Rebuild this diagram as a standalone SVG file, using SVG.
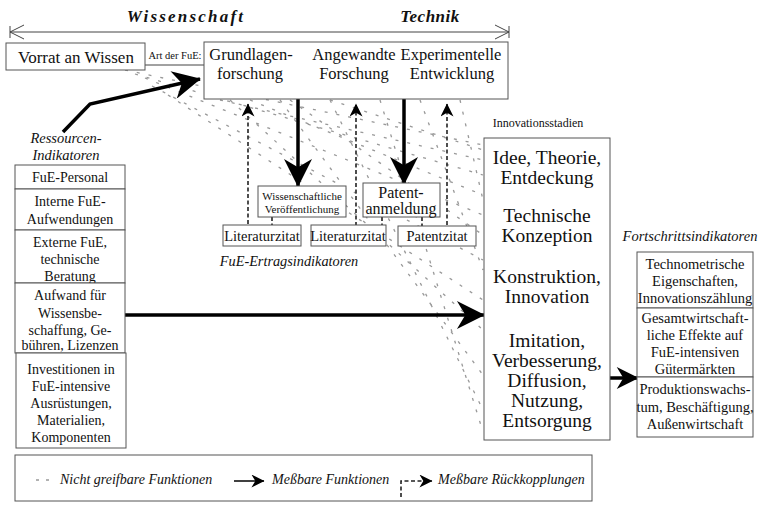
<svg xmlns="http://www.w3.org/2000/svg" width="758" height="505" viewBox="0 0 758 505">
<style>
.box{fill:#fff;stroke:#555;stroke-width:1}
.thick{stroke:#000;stroke-width:3.5;fill:none}
.fb{stroke:#222;stroke-width:1.6;fill:none;stroke-dasharray:4 2.5}
.dash{stroke:#999;stroke-width:1.3;fill:none;stroke-dasharray:3 9}
.thin{stroke:#444;stroke-width:1;fill:none}
</style>
<defs>
<marker id="big" viewBox="0 0 30 30" refX="29" refY="15" markerUnits="userSpaceOnUse" markerWidth="30" markerHeight="28" orient="auto"><path d="M0,0 L30,15 L0,30 L9,15 Z" fill="#000"/></marker>
<marker id="mid" viewBox="0 0 30 30" refX="29" refY="15" markerUnits="userSpaceOnUse" markerWidth="24" markerHeight="22" orient="auto"><path d="M0,0 L30,15 L0,30 L9,15 Z" fill="#000"/></marker>
<marker id="sm" viewBox="0 0 30 30" refX="29" refY="15" markerUnits="userSpaceOnUse" markerWidth="16" markerHeight="13" orient="auto"><path d="M0,0 L30,15 L0,30 L9,15 Z" fill="#000"/></marker>
</defs>

<g id="connectors">
  <g class="dash">
    <line x1="125" y1="70" x2="483" y2="145"/>
    <line x1="135" y1="74" x2="483" y2="175"/>
    <line x1="145" y1="78" x2="483" y2="215"/>
    <line x1="152" y1="86" x2="483" y2="260"/>
    <line x1="168" y1="95" x2="483" y2="300"/>
    <line x1="220" y1="100" x2="483" y2="160"/>
    <line x1="250" y1="100" x2="483" y2="195"/>
    <line x1="290" y1="100" x2="483" y2="235"/>
    <line x1="330" y1="100" x2="483" y2="150"/>
    <line x1="230" y1="100" x2="483" y2="330"/>
    <line x1="280" y1="100" x2="483" y2="375"/>
    <line x1="330" y1="100" x2="483" y2="410"/>
    <line x1="380" y1="100" x2="483" y2="432"/>
    <line x1="420" y1="100" x2="483" y2="270"/>
    <line x1="460" y1="100" x2="483" y2="200"/>
  </g>
  <line class="thin" x1="10" y1="32" x2="509" y2="32"/>
  <path class="thin" d="M24,25 L10,32 L24,39 M10,26 L10,38 M495,25 L509,32 L495,39 M509,26 L509,38" stroke-width="1.5"/>
  <line class="thin" x1="145" y1="65" x2="204" y2="65"/>
  <line x1="242" y1="93" x2="393" y2="93" stroke="#000" stroke-width="3"/>
  <line x1="309" y1="85" x2="462" y2="85" stroke="#000" stroke-width="3"/>
  <line class="thick" x1="298" y1="93" x2="298" y2="186" marker-end="url(#big)" stroke-width="3"/>
  <line class="thick" x1="404" y1="85" x2="404" y2="184" marker-end="url(#big)" stroke-width="3"/>
  <polyline class="thick" points="63,132 90,104 200,79" marker-end="url(#big)"/>
  <line class="thick" x1="125" y1="315" x2="484" y2="315" marker-end="url(#big)" stroke-width="3"/>
  <line class="thick" x1="610" y1="378" x2="638" y2="378" marker-end="url(#mid)" stroke-width="3"/>
  <polyline class="fb" points="272,217 272,228 248,228 248,104" marker-end="url(#sm)"/>
  <polyline class="fb" points="382,217 382,228 356,228 356,104" marker-end="url(#sm)"/>
  <polyline class="fb" points="422,217 422,228 447,228 447,104" marker-end="url(#sm)"/>
</g>

<g fill="#111" text-anchor="middle">
<g id="axis-labels">
  <text style="font-family:'Liberation Serif',serif" font-style="italic" x="186" y="22" font-size="17" font-weight="bold" letter-spacing="2.2">Wissenschaft</text>
  <text style="font-family:'Liberation Serif',serif" font-style="italic" x="430" y="22" font-size="17" font-weight="bold" letter-spacing="0.5">Technik</text>
</g>

<g id="vorrat">
  <rect class="box" x="6" y="43" width="139" height="27"/>
  <text style="font-family:'Liberation Serif',serif" x="76" y="63" font-size="17">Vorrat an Wissen</text>
</g>
<text style="font-family:'Liberation Serif',serif" x="175" y="59" font-size="10.5">Art der FuE:</text>

<g id="fue-arten">
  <rect class="box" x="204" y="42" width="304" height="57"/>
  <text style="font-family:'Liberation Serif',serif" font-size="16.5"><tspan x="251" y="60">Grundlagen-</tspan><tspan x="250" y="79">forschung</tspan></text>
  <text style="font-family:'Liberation Serif',serif" font-size="16.5"><tspan x="354" y="60">Angewandte</tspan><tspan x="354" y="79">Forschung</tspan></text>
  <text style="font-family:'Liberation Serif',serif" font-size="16.5"><tspan x="451" y="60">Experimentelle</tspan><tspan x="452" y="79">Entwicklung</tspan></text>
</g>

<g id="ressourcen">
  <text style="font-family:'Liberation Serif',serif" font-style="italic" font-size="14.5"><tspan x="66" y="143">Ressourcen-</tspan><tspan x="66" y="160">Indikatoren</tspan></text>
  <rect class="box" x="15" y="165" width="110" height="24"/>
  <text style="font-family:'Liberation Serif',serif" x="70" y="182" font-size="14">FuE-Personal</text>
  <rect class="box" x="15" y="189" width="110" height="41"/>
  <text style="font-family:'Liberation Serif',serif" font-size="14"><tspan x="70" y="206">Interne FuE-</tspan><tspan x="70" y="224">Aufwendungen</tspan></text>
  <rect class="box" x="15" y="230" width="110" height="53"/>
  <text style="font-family:'Liberation Serif',serif" font-size="14"><tspan x="70" y="247">Externe FuE,</tspan><tspan x="70" y="264">technische</tspan><tspan x="70" y="281">Beratung</tspan></text>
  <rect class="box" x="15" y="283" width="110" height="70"/>
  <text style="font-family:'Liberation Serif',serif" font-size="14"><tspan x="70" y="300">Aufwand für</tspan><tspan x="70" y="318">Wissensbe-</tspan><tspan x="70" y="335">schaffung, Ge-</tspan><tspan x="70" y="350">bühren, Lizenzen</tspan></text>
  <rect class="box" x="16" y="353" width="110" height="95"/>
  <text style="font-family:'Liberation Serif',serif" font-size="14"><tspan x="71" y="374">Investitionen in</tspan><tspan x="71" y="391">FuE-intensive</tspan><tspan x="71" y="408">Ausrüstungen,</tspan><tspan x="71" y="425">Materialien,</tspan><tspan x="71" y="442">Komponenten</tspan></text>
</g>

<g id="ertrag">
  <rect class="box" x="258" y="186" width="88" height="31"/>
  <text style="font-family:'Liberation Serif',serif" font-size="11"><tspan x="302" y="200">Wissenschaftliche</tspan><tspan x="302" y="213">Veröffentlichung</tspan></text>
  <rect class="box" x="363" y="183" width="77" height="34"/>
  <text style="font-family:'Liberation Serif',serif" font-size="16"><tspan x="401" y="198">Patent-</tspan><tspan x="401" y="214">anmeldung</tspan></text>
  <rect class="box" x="223" y="225" width="78" height="21"/>
  <text style="font-family:'Liberation Serif',serif" x="262" y="241" font-size="14.5">Literaturzitat</text>
  <rect class="box" x="311" y="225" width="75" height="21"/>
  <text style="font-family:'Liberation Serif',serif" x="348" y="241" font-size="14.5">Literaturzitat</text>
  <rect class="box" x="398" y="226" width="78" height="20"/>
  <text style="font-family:'Liberation Serif',serif" x="437" y="241" font-size="14.5">Patentzitat</text>
  <text style="font-family:'Liberation Serif',serif" font-style="italic" x="289" y="266" font-size="14.3">FuE-Ertragsindikatoren</text>
</g>

<g id="innovation">
  <text style="font-family:'Liberation Serif',serif" x="538" y="127" font-size="12">Innovationsstadien</text>
  <rect class="box" x="484" y="138" width="126" height="302"/>
  <text style="font-family:'Liberation Serif',serif" font-size="19.5"><tspan x="547" y="164">Idee, Theorie,</tspan><tspan x="547" y="184">Entdeckung</tspan></text>
  <text style="font-family:'Liberation Serif',serif" font-size="19.5"><tspan x="547" y="222">Technische</tspan><tspan x="547" y="242">Konzeption</tspan></text>
  <text style="font-family:'Liberation Serif',serif" font-size="19.5"><tspan x="547" y="283">Konstruktion,</tspan><tspan x="547" y="303">Innovation</tspan></text>
  <text style="font-family:'Liberation Serif',serif" font-size="19.5"><tspan x="547" y="347">Imitation,</tspan><tspan x="547" y="367">Verbesserung,</tspan><tspan x="547" y="387">Diffusion,</tspan><tspan x="547" y="407">Nutzung,</tspan><tspan x="547" y="427">Entsorgung</tspan></text>
</g>

<g id="fortschritt">
  <text style="font-family:'Liberation Serif',serif" font-style="italic" x="690" y="241" font-size="14.5">Fortschrittsindikatoren</text>
  <rect class="box" x="637" y="252" width="116" height="56"/>
  <text style="font-family:'Liberation Serif',serif" font-size="14.5"><tspan x="695" y="269">Technometrische</tspan><tspan x="695" y="286">Eigenschaften,</tspan><tspan x="695" y="303">Innovationszählung</tspan></text>
  <rect class="box" x="637" y="308" width="116" height="69"/>
  <text style="font-family:'Liberation Serif',serif" font-size="14.5"><tspan x="695" y="323">Gesamtwirtschaft-</tspan><tspan x="695" y="340">liche Effekte auf</tspan><tspan x="695" y="357">FuE-intensiven</tspan><tspan x="695" y="374">Gütermärkten</tspan></text>
  <rect class="box" x="637" y="377" width="116" height="60"/>
  <text style="font-family:'Liberation Serif',serif" font-size="14.5"><tspan x="695" y="394">Produktionswachs-</tspan><tspan x="695" y="412">tum, Beschäftigung,</tspan><tspan x="695" y="429">Außenwirtschaft</tspan></text>
</g>
</g>

<g id="legende" fill="#111">
  <rect class="box" x="15" y="455" width="577" height="46"/>
  <line x1="36" y1="480" x2="52" y2="480" stroke="#666" stroke-width="1.2" stroke-dasharray="3 7"/>
  <text style="font-family:'Liberation Serif',serif" font-style="italic" x="60" y="484" font-size="14">Nicht greifbare Funktionen</text>
  <line x1="234" y1="481" x2="264" y2="481" stroke="#000" stroke-width="1.5" marker-end="url(#sm)"/>
  <text style="font-family:'Liberation Serif',serif" font-style="italic" x="272" y="484" font-size="14">Meßbare Funktionen</text>
  <polyline class="fb" points="401,497 401,481 432,481" stroke-width="1" stroke-dasharray="2 1.5" marker-end="url(#sm)"/>
  <text style="font-family:'Liberation Serif',serif" font-style="italic" x="438" y="484" font-size="14">Meßbare Rückkopplungen</text>
</g>
</svg>
